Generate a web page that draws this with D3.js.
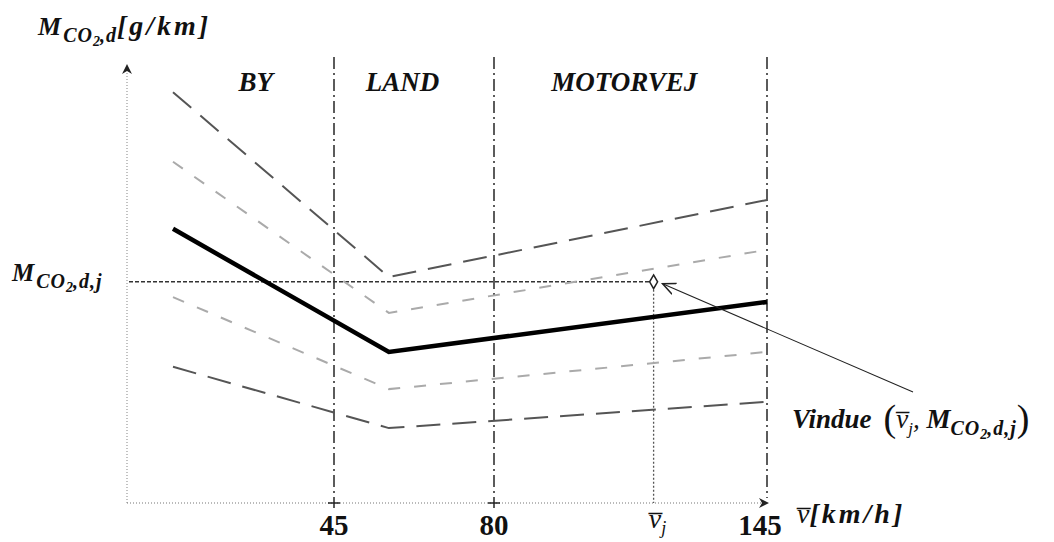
<!DOCTYPE html>
<html>
<head>
<meta charset="utf-8">
<script src="https://cdn.jsdelivr.net/npm/d3@7"></script>
<style>
  body { margin: 0; background: #fff; }
  svg { display: block; }
  text { font-family: "Liberation Serif", "Times New Roman", serif; fill: #111; }
</style>
</head>
<body>
<script>
// zone boundaries on the speed axis (km/h)
const zoneBreaks = [45, 80, 145];
const zoneNames = ['BY', 'LAND', 'MOTORVEJ'];
const zoneLabelSpeeds = [28, 60, 111];

// curve break points (speed) and emission levels (relative g/km) for each curve
const curveSpeeds = [10, 57, 145];
const curveOuterHigh = [93.8, 51.6, 69.2];
const curveInnerHigh = [77.9, 43.4, 57.8];
const curveMain = [62.6, 34.5, 45.9];
const curveInnerLow = [47.0, 26.0, 34.5];
const curveOuterLow = [31.1, 17.1, 23.1];

// the window point
const windowSpeed = 118;
const windowLevel = 50.5;

const width = 1054, height = 542;

const svg = d3.select('body')
    .append('svg')
    .attr('width', width)
    .attr('height', height);

// schematic speed axis, stretched piecewise like the drawing
const x = d3.scaleLinear()
    .domain([0, 45, 80, 145])
    .range([127, 334, 494, 767]);

const y = d3.scaleLinear()
    .domain([0, 100])
    .range([503, 65]);

const defs = svg.append('defs');
defs.append('marker')
    .attr('id', 'axisArrow')
    .attr('viewBox', '0 0 10 10')
    .attr('refX', 9).attr('refY', 5)
    .attr('markerWidth', 10).attr('markerHeight', 10)
    .attr('markerUnits', 'userSpaceOnUse')
    .attr('orient', 'auto')
    .append('path')
    .attr('d', 'M0,0 L10,5 L0,10 L3,5 Z')
    .attr('fill', '#222');

defs.append('marker')
    .attr('id', 'openArrow')
    .attr('viewBox', '0 0 12 12')
    .attr('refX', 11).attr('refY', 6)
    .attr('markerWidth', 14).attr('markerHeight', 14)
    .attr('markerUnits', 'userSpaceOnUse')
    .attr('orient', 'auto')
    .append('path')
    .attr('d', 'M0,1 L11,6 L0,11')
    .attr('fill', 'none')
    .attr('stroke', '#222')
    .attr('stroke-width', 1.3);

// axes (dotted, with arrow heads)
svg.append('line')
    .attr('x1', x(0)).attr('y1', y(0))
    .attr('x2', x(0)).attr('y2', y(100))
    .attr('stroke', '#999')
    .attr('stroke-width', 1.2)
    .attr('stroke-dasharray', '1,2')
    .attr('marker-end', 'url(#axisArrow)');

svg.append('line')
    .attr('x1', x(0)).attr('y1', y(0))
    .attr('x2', x(145) + 1).attr('y2', y(0))
    .attr('stroke', '#777')
    .attr('stroke-width', 1.2)
    .attr('stroke-dasharray', '1,2')
    .attr('marker-end', 'url(#axisArrow)');

// zone boundaries (dash-dot)
svg.selectAll('.zone-line')
    .data(zoneBreaks)
    .enter()
    .append('line')
    .attr('class', 'zone-line')
    .attr('x1', d => x(d)).attr('x2', d => x(d))
    .attr('y1', 57)
    .attr('y2', d => d === 145 ? y(0) - 5 : y(0) + 5)
    .attr('stroke', '#333')
    .attr('stroke-width', 1.6)
    .attr('stroke-dasharray', '12,4,2,4');

// small tick crosses on the speed axis
svg.selectAll('.tick-cross')
    .data(zoneBreaks.slice(0, 2))
    .enter()
    .append('line')
    .attr('class', 'tick-cross')
    .attr('x1', d => x(d) - 6).attr('x2', d => x(d) + 6)
    .attr('y1', y(0)).attr('y2', y(0))
    .attr('stroke', '#222')
    .attr('stroke-width', 1.5);

// zone labels
svg.selectAll('.zone-label')
    .data(zoneNames)
    .enter()
    .append('text')
    .attr('class', 'zone-label')
    .attr('x', (d, i) => x(zoneLabelSpeeds[i]))
    .attr('y', 91)
    .attr('text-anchor', 'middle')
    .attr('font-size', 27)
    .attr('font-weight', 'bold')
    .attr('font-style', 'italic')
    .text(d => d);

// reference lines through the window point
svg.append('line')
    .attr('x1', x(0) + 2).attr('y1', y(windowLevel))
    .attr('x2', x(windowSpeed)).attr('y2', y(windowLevel))
    .attr('stroke', '#333')
    .attr('stroke-width', 1.4)
    .attr('stroke-dasharray', '4,2');

svg.append('line')
    .attr('x1', x(windowSpeed)).attr('y1', y(windowLevel))
    .attr('x2', x(windowSpeed)).attr('y2', y(0))
    .attr('stroke', '#555')
    .attr('stroke-width', 1.3)
    .attr('stroke-dasharray', '2,2');

// emission curves
const curves = [
    { values: curveOuterHigh, stroke: '#555', width: 2, dash: '24,12' },
    { values: curveInnerHigh, stroke: '#aaa', width: 2, dash: '12,14' },
    { values: curveMain, stroke: '#000', width: 4.5, dash: null },
    { values: curveInnerLow, stroke: '#aaa', width: 2, dash: '12,14' },
    { values: curveOuterLow, stroke: '#555', width: 2, dash: '24,12' }
];

const line = d3.line()
    .x((d, i) => x(curveSpeeds[i]))
    .y(d => y(d));

svg.selectAll('.curve')
    .data(curves)
    .enter()
    .append('path')
    .attr('class', 'curve')
    .attr('d', d => line(d.values))
    .attr('fill', 'none')
    .attr('stroke', d => d.stroke)
    .attr('stroke-width', d => d.width)
    .attr('stroke-dasharray', d => d.dash);

// window marker (diamond)
svg.append('path')
    .attr('d', d3.symbol().type(d3.symbolDiamond).size(55))
    .attr('transform', `translate(${x(windowSpeed)},${y(windowLevel)})`)
    .attr('fill', '#fff')
    .attr('stroke', '#222')
    .attr('stroke-width', 1.5);

// annotation arrow
svg.append('line')
    .attr('x1', 913).attr('y1', 392)
    .attr('x2', x(windowSpeed) + 9).attr('y2', y(windowLevel) + 2)
    .attr('stroke', '#222')
    .attr('stroke-width', 1.1)
    .attr('marker-end', 'url(#openArrow)');

// helper for "M" with CO2 subscript
function addMLabel(tx, ty, size, subTail, suffix) {
    const sub = Math.round(size * 0.78);
    const t = svg.append('text')
        .attr('x', tx).attr('y', ty)
        .attr('font-size', size)
        .attr('font-weight', 'bold')
        .attr('font-style', 'italic');
    t.append('tspan').text('M');
    t.append('tspan').attr('dy', 7).attr('dx', 2).attr('font-size', sub)
        .attr('letter-spacing', 1).text('CO');
    t.append('tspan').attr('dy', 4).attr('font-size', Math.round(sub * 0.7)).text('2');
    t.append('tspan').attr('dy', -4).attr('font-size', sub)
        .attr('letter-spacing', 1).text(subTail);
    if (suffix) {
        t.append('tspan').attr('dy', -7).attr('font-size', size + 2)
            .attr('letter-spacing', 3).text(suffix);
    }
    return t;
}

addMLabel(38, 35, 26, ',d', '[g/km]');
addMLabel(12, 281, 25, ',d,j', null);

// speed tick labels
const tickLabels = svg.append('g')
    .attr('font-size', 29)
    .attr('font-weight', 'bold');

tickLabels.selectAll('text')
    .data(zoneBreaks)
    .enter()
    .append('text')
    .attr('x', d => d === 145 ? x(d) - 7 : x(d))
    .attr('y', 535)
    .attr('text-anchor', 'middle')
    .text(d => d);

const vj = svg.append('text')
    .attr('x', x(windowSpeed) + 4)
    .attr('y', 528)
    .attr('text-anchor', 'middle')
    .attr('font-size', 28)
    .attr('font-style', 'italic');
vj.append('tspan').text('v\u0305');
vj.append('tspan').attr('dy', 6).attr('font-size', 18).text('j');

const vAxis = svg.append('text')
    .attr('x', 797)
    .attr('y', 523)
    .attr('font-size', 28)
    .attr('font-style', 'italic');
vAxis.append('tspan').text('v\u0305');
vAxis.append('tspan')
    .attr('font-weight', 'bold')
    .attr('letter-spacing', 3)
    .text('[km/h]');

// window label
const win = svg.append('text')
    .attr('x', 792)
    .attr('y', 428)
    .attr('font-size', 27)
    .attr('font-weight', 'bold')
    .attr('font-style', 'italic');
win.append('tspan').text('Vindue');
win.append('tspan').attr('dx', 12).attr('font-size', 38).attr('font-weight', 'normal')
    .attr('font-style', 'normal').attr('dy', 3).text('(');
win.append('tspan').attr('dy', -3).attr('font-weight', 'normal').text('v\u0305');
win.append('tspan').attr('dy', 6).attr('font-size', 17).attr('font-weight', 'normal').text('j');
win.append('tspan').attr('dy', -6).attr('font-weight', 'normal').text(', ');
win.append('tspan').text('M');
win.append('tspan').attr('dy', 7).attr('font-size', 20).attr('letter-spacing', 1).text('CO');
win.append('tspan').attr('dy', 4).attr('font-size', 14).text('2');
win.append('tspan').attr('dy', -4).attr('font-size', 20).attr('letter-spacing', 1).text(',d,j');
win.append('tspan').attr('dy', -4).attr('font-size', 38).attr('font-weight', 'normal')
    .attr('font-style', 'normal').text(')');
</script>
</body>
</html>
